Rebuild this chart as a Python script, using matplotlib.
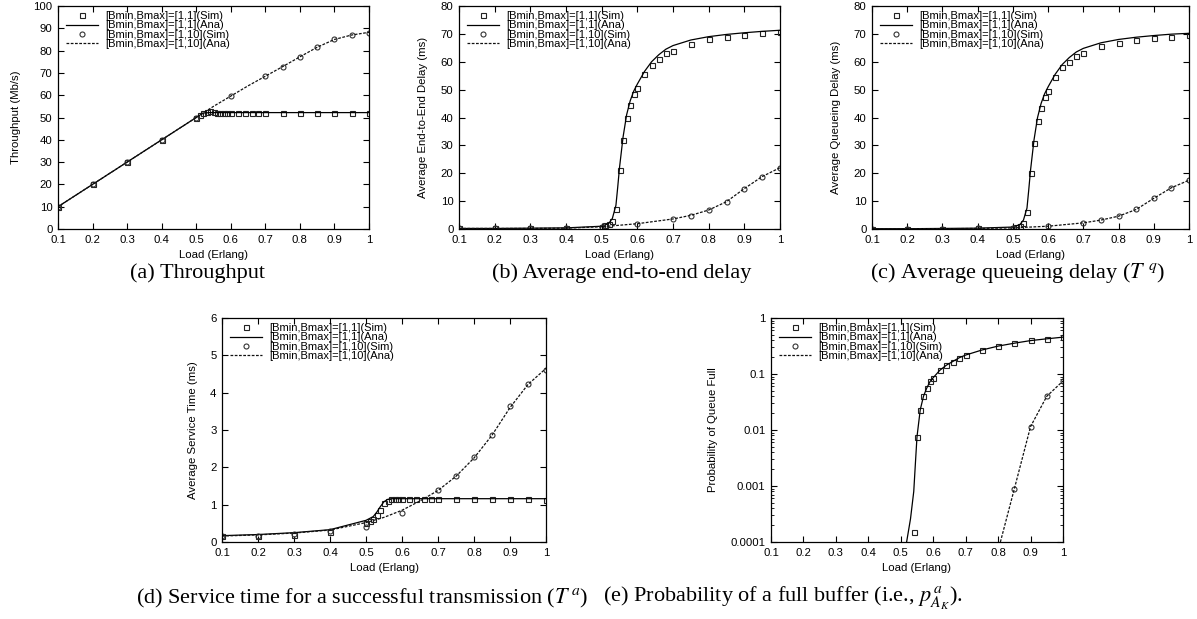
import numpy as np
import matplotlib
matplotlib.use("Agg")
import matplotlib.pyplot as plt
from matplotlib.ticker import FixedLocator, LogLocator, NullFormatter

plt.rcParams['font.family'] = ['Liberation Sans', 'DejaVu Sans']
plt.rcParams['mathtext.fontset'] = 'stix'

# x positions of the simulation points
x_sim1 = [0.1, 0.2, 0.3, 0.4, 0.5, 0.51, 0.52, 0.53, 0.54, 0.55, 0.56, 0.57, 0.58, 0.59,
          0.6, 0.62, 0.64, 0.66, 0.68, 0.7, 0.75, 0.8, 0.85, 0.9, 0.95, 1.0]
x_sim10 = [0.1, 0.2, 0.3, 0.4, 0.5, 0.6, 0.7, 0.75, 0.8, 0.85, 0.9, 0.95, 1.0]

# (a) throughput
thr_sim1 = [10, 20, 30, 40, 50, 51, 52, 52.5, 52.8, 52.3, 52, 52, 52, 52,
            52, 52, 52, 52, 52, 52, 52, 52, 52, 52, 52, 52]
thr_ana1_x = [0.1, 0.2, 0.3, 0.4, 0.5, 0.52, 0.54, 0.6, 0.7, 0.8, 0.9, 1.0]
thr_ana1 = [10, 20, 30, 40, 50, 52, 52.2, 52.2, 52.2, 52.2, 52.2, 52.2]
thr_sim10 = [10, 20, 30, 40, 50, 59.5, 68.5, 72.8, 77.3, 81.5, 85, 87, 88]
thr_ana10_x = [0.1, 0.2, 0.3, 0.4, 0.5, 0.55, 0.6, 0.65, 0.7, 0.75, 0.8, 0.85, 0.9, 0.95, 1.0]
thr_ana10 = [10, 20, 30, 40, 50, 55, 59.6, 64.2, 68.5, 72.8, 77.2, 81.5, 85, 87, 88.2]

# (b) end-to-end delay
e2e_sim1 = [0.2, 0.2, 0.2, 0.3, 0.8, 1.3, 1.8, 2.8, 7, 21, 32, 40, 44.5, 48.5,
            50.5, 55.5, 59, 61, 63, 64, 66.5, 68, 69, 69.5, 70.2, 70.7]
e2e_ana1_x = [0.1, 0.2, 0.3, 0.4, 0.5, 0.52, 0.53, 0.54, 0.545, 0.55, 0.56, 0.57, 0.58,
              0.59, 0.6, 0.62, 0.64, 0.66, 0.68, 0.7, 0.75, 0.8, 0.85, 0.9, 0.95, 1.0]
e2e_ana1 = [0.2, 0.2, 0.3, 0.4, 1.0, 2.0, 3.8, 8.5, 15, 22, 33, 41, 46, 49.5,
            52, 56.5, 60, 62.5, 64.5, 65.8, 67.8, 69, 69.8, 70.4, 70.9, 71.3]
e2e_sim10 = [0.2, 0.2, 0.2, 0.3, 0.7, 1.8, 3.6, 4.8, 6.8, 9.8, 14.5, 18.8, 22]
e2e_ana10 = [0.2, 0.2, 0.2, 0.3, 0.8, 1.9, 3.6, 4.9, 6.8, 9.8, 14.5, 18.8, 22]

# (c) queueing delay
que_sim1 = [0.1, 0.1, 0.1, 0.2, 0.4, 0.7, 1.2, 2.2, 6, 20, 31, 38.8, 43.5, 47.5,
            49.5, 54.5, 58, 60, 62, 63, 65.5, 66.8, 67.8, 68.5, 69, 69.5]
que_ana1_x = e2e_ana1_x
que_ana1 = [0.1, 0.1, 0.2, 0.3, 0.7, 1.6, 3.2, 7.5, 14, 21, 32, 40, 45, 48.5,
            51, 55.5, 59, 61.5, 63.5, 64.8, 66.8, 68, 68.8, 69.4, 69.9, 70.2]
que_sim10 = [0.1, 0.1, 0.1, 0.2, 0.3, 1.0, 2.2, 3.2, 4.6, 7, 11, 14.8, 17.5]
que_ana10 = [0.1, 0.1, 0.1, 0.2, 0.4, 1.0, 2.2, 3.2, 4.6, 7, 11, 14.8, 17.5]

# (d) service time
svc_sim1 = [0.15, 0.15, 0.19, 0.26, 0.5, 0.57, 0.62, 0.71, 0.86, 1.05, 1.11, 1.16, 1.14, 1.14,
            1.15, 1.14, 1.15, 1.15, 1.15, 1.15, 1.15, 1.15, 1.14, 1.14, 1.15, 1.13]
svc_ana1_x = [0.1, 0.2, 0.3, 0.4, 0.5, 0.52, 0.53, 0.54, 0.55, 0.56, 0.57, 0.6, 0.7, 0.8, 0.9, 1.0]
svc_ana1 = [0.17, 0.2, 0.25, 0.33, 0.58, 0.68, 0.8, 0.95, 1.08, 1.14, 1.16, 1.16, 1.16, 1.16, 1.16, 1.16]
svc_sim10 = [0.15, 0.17, 0.22, 0.3, 0.4, 0.78, 1.4, 1.78, 2.27, 2.87, 3.65, 4.22, 4.62]
svc_ana10_x = [0.1, 0.2, 0.3, 0.4, 0.5, 0.55, 0.6, 0.65, 0.7, 0.75, 0.8, 0.85, 0.9, 0.95, 1.0]
svc_ana10 = [0.16, 0.19, 0.24, 0.32, 0.52, 0.66, 0.85, 1.1, 1.38, 1.76, 2.25, 2.86, 3.6, 4.22, 4.65]

# (e) probability of a full queue
pf_sim1_x = [0.54, 0.55, 0.56, 0.57, 0.58, 0.59, 0.6, 0.62, 0.64, 0.66, 0.68, 0.7,
             0.75, 0.8, 0.85, 0.9, 0.95, 1.0]
pf_sim1 = [1.5e-4, 7.6e-3, 0.023, 0.04, 0.056, 0.074, 0.085, 0.117, 0.144, 0.167, 0.195, 0.22,
           0.27, 0.32, 0.36, 0.40, 0.43, 0.46]
pf_ana1_x = [0.518, 0.53, 0.54, 0.545, 0.55, 0.56, 0.57, 0.58, 0.59, 0.6, 0.62, 0.64, 0.66,
             0.68, 0.7, 0.75, 0.8, 0.85, 0.9, 0.95, 1.0]
pf_ana1 = [1e-4, 2.6e-4, 8e-4, 2.5e-3, 7.6e-3, 0.023, 0.04, 0.056, 0.073, 0.086, 0.116, 0.143,
           0.167, 0.195, 0.218, 0.268, 0.315, 0.355, 0.395, 0.425, 0.455]
pf_sim10_x = [0.85, 0.9, 0.95, 1.0]
pf_sim10 = [8.9e-4, 0.0115, 0.04, 0.075]
pf_ana10_x = [0.807, 0.85, 0.9, 0.95, 1.0]
pf_ana10 = [1e-4, 8.9e-4, 0.0115, 0.04, 0.075]

labels = ['[Bmin,Bmax]=[1,1](Sim)', '[Bmin,Bmax]=[1,1](Ana)',
          '[Bmin,Bmax]=[1,10](Sim)', '[Bmin,Bmax]=[1,10](Ana)']
xticks = [0.1, 0.2, 0.3, 0.4, 0.5, 0.6, 0.7, 0.8, 0.9, 1.0]
xticklabels = ['0.1', '0.2', '0.3', '0.4', '0.5', '0.6', '0.7', '0.8', '0.9', '1']

W, H = 1197, 619
fig = plt.figure(figsize=(W / 100, H / 100), dpi=100)
FS = 8.2


def make_ax(left, right, top, bottom):
    return fig.add_axes([left / W, 1 - bottom / H, (right - left) / W, (bottom - top) / H])


def draw(ax, s1x, s1, a1x, a1, s10x, s10, a10x, a10, ylabel):
    ax.plot(s1x, s1, linestyle='none', marker='s', ms=3.6, mfc='none', mec='#222222', mew=0.8,
            label=labels[0])
    ax.plot(a1x, a1, color='black', lw=0.9, label=labels[1])
    ax.plot(s10x, s10, linestyle='none', marker='o', ms=3.6, mfc='none', mec='#333333', mew=0.8,
            label=labels[2])
    ax.plot(a10x, a10, color='#111111', lw=0.9, linestyle=(0, (2.2, 1.2)), label=labels[3])
    ax.set_xlim(0.1, 1.0)
    ax.set_xticks(xticks)
    ax.set_xticklabels(xticklabels)
    ax.set_xlabel('Load (Erlang)', fontsize=FS, labelpad=4)
    ax.set_ylabel(ylabel, fontsize=FS, labelpad=9)
    ax.tick_params(direction='in', top=True, right=True, labelsize=FS, length=4, width=0.8, pad=4)
    ax.tick_params(which='minor', direction='in', top=True, right=True, length=2, width=0.6)
    for sp in ax.spines.values():
        sp.set_linewidth(0.9)
    ax.legend(loc='upper left', frameon=False, fontsize=8.0, handlelength=2.9, handletextpad=0.6,
              labelspacing=-0.05, borderpad=0.25, borderaxespad=0.2, bbox_to_anchor=(0.01, 1.0))


ax_a = make_ax(58, 369, 6, 229)
draw(ax_a, x_sim1, thr_sim1, thr_ana1_x, thr_ana1, x_sim10, thr_sim10, thr_ana10_x, thr_ana10,
     'Throughput (Mb/s)')
ax_a.set_ylim(0, 100)
ax_a.set_yticks(np.arange(0, 101, 10))

ax_b = make_ax(459, 780, 6, 229)
draw(ax_b, x_sim1, e2e_sim1, e2e_ana1_x, e2e_ana1, x_sim10, e2e_sim10, x_sim10, e2e_ana10,
     'Average End-to-End Delay (ms)')
ax_b.set_ylim(0, 80)
ax_b.set_yticks(np.arange(0, 81, 10))

ax_c = make_ax(872, 1189, 6, 229)
draw(ax_c, x_sim1, que_sim1, que_ana1_x, que_ana1, x_sim10, que_sim10, x_sim10, que_ana10,
     'Average Queueing Delay (ms)')
ax_c.set_ylim(0, 80)
ax_c.set_yticks(np.arange(0, 81, 10))

ax_d = make_ax(222, 546, 318, 542)
draw(ax_d, x_sim1, svc_sim1, svc_ana1_x, svc_ana1, x_sim10, svc_sim10, svc_ana10_x, svc_ana10,
     'Average Service Time (ms)')
ax_d.set_ylim(0, 6)
ax_d.set_yticks(np.arange(0, 7, 1))

ax_e = make_ax(771, 1063, 318, 542)
draw(ax_e, pf_sim1_x, pf_sim1, pf_ana1_x, pf_ana1, pf_sim10_x, pf_sim10, pf_ana10_x, pf_ana10,
     'Probability of Queue Full')
ax_e.set_yscale('log')
ax_e.set_ylim(1e-4, 1)
ax_e.yaxis.set_major_locator(FixedLocator([1e-4, 1e-3, 1e-2, 1e-1, 1]))
ax_e.set_yticklabels(['0.0001', '0.001', '0.01', '0.1', '1'])
ax_e.yaxis.set_minor_locator(LogLocator(base=10, subs=np.arange(2, 10), numticks=20))
ax_e.yaxis.set_minor_formatter(NullFormatter())

cap = dict(family=['Liberation Serif', 'DejaVu Serif'], fontsize=16.0, va='center')
fig.text(198 / W, 1 - 273 / H, '(a) Throughput', ha='center', **cap)
fig.text(622 / W, 1 - 273 / H, '(b) Average end-to-end delay', ha='center', **cap)
fig.text(1018 / W, 1 - 273 / H, r'(c) Average queueing delay ($T^{\ q}$)', ha='center', **cap)
fig.text(588 / W, 1 - 598 / H, r'(d) Service time for a successful transmission ($T^{\,a}$)',
         ha='right', **cap)
fig.text(603 / W, 1 - 598 / H, r'(e) Probability of a full buffer (i.e., $p^{\,a}_{A_K}$).',
         ha='left', **cap)

fig.savefig('out.png', dpi=100)
